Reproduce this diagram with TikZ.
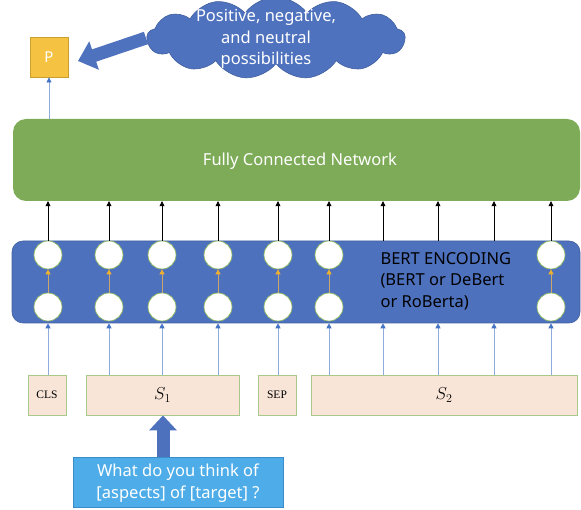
\documentclass[tikz,border=0pt]{standalone}
\usepackage{fontspec}
\setmainfont{Noto Sans}
\newfontfamily\serifsmall{Liberation Serif}
\usetikzlibrary{arrows.meta,shapes.symbols,calc}
\definecolor{fcgreen}{HTML}{7DAB57}
\definecolor{encblue}{HTML}{4E71BE}
\definecolor{encedge}{HTML}{41609F}
\definecolor{cloudblue}{HTML}{4F72BE}
\definecolor{qblue}{HTML}{4EADE8}
\definecolor{qedge}{HTML}{3A8CC8}
\definecolor{peach}{HTML}{F8E5D8}
\definecolor{boxedge}{HTML}{A9C98B}
\definecolor{pfill}{HTML}{F5C242}
\definecolor{pedge}{HTML}{C9A030}
\definecolor{thinblue}{HTML}{8FAADC}
\definecolor{tipblue}{HTML}{4472C4}
\definecolor{tan}{HTML}{C9A66B}
\definecolor{orangetip}{HTML}{F0B030}
\definecolor{circedge}{HTML}{8DB860}
\begin{document}
\begin{tikzpicture}[x=1pt,y=-1pt,
  txt/.style={font=\fontsize{16.5}{21.5}\selectfont},
  inbox/.style={draw=boxedge,line width=0.9pt,fill=peach,inner sep=0},
  neuron/.style={circle,draw=circedge,line width=0.7pt,fill=white,minimum size=28pt,inner sep=0},
  upblack/.style={draw=black,line width=0.7pt,-{Triangle[width=5pt,length=5pt]}},
  upthin/.style={draw=thinblue,line width=0.7pt,-{Triangle[width=5pt,length=5pt,fill=tipblue,color=tipblue]}},
  uporange/.style={draw=tan,line width=0.7pt,-{Triangle[width=5pt,length=5pt,fill=orangetip,color=orangetip]}},
  blockarrow/.style={line width=13pt}
]
\useasboundingbox (0,0) rectangle (581,510);

% cloud
\node[cloud,cloud puffs=13,cloud puff arc=110,aspect=3.3,fill=cloudblue,draw=encedge,line width=0.6pt,
  minimum width=258pt,minimum height=82pt,inner sep=0] (cloud) at (276,38) {};
\node[txt,text=white,align=center] (cloudtxt) at (266,39) {Positive, negative,\\and neutral\\possibilities};

% P box
\node[draw=pedge,fill=pfill,line width=0.8pt,minimum width=38pt,minimum height=40pt,inner sep=0,
  font=\fontsize{15}{17}\selectfont,text=white] (P) at (49,57) {P};

% block arrow from cloud to P
\coordinate (ctail) at (146,38);
\coordinate (chead) at (78,61);
\draw[blockarrow,draw=cloudblue,-{Triangle[width=29pt,length=17pt,fill=cloudblue]}] (ctail) -- (chead);

% fully connected network
\node[fill=fcgreen,rounded corners=13pt,minimum width=567pt,minimum height=82pt,inner sep=0] (fcn) at (296.5,160) {};
\node[txt,text=white] (fcntxt) at (300,161) {Fully Connected Network};

% BERT encoding block
\node[fill=encblue,draw=encedge,line width=0.6pt,rounded corners=11pt,minimum width=568pt,minimum height=82pt,inner sep=0] (enc) at (296,282) {};
\node[txt,text=black,align=left,anchor=west] (enctxt) at (377,281) {BERT ENCODING\\(BERT or DeBert\\or RoBerta)};

% column positions
\foreach \n/\x in {1/48,2/109,3/162,4/218,5/278,6/329,7/383,8/438,9/494,10/551}
  \coordinate (k\n) at (\x,0);

% neurons
\foreach \n/\x in {1/48,2/109,3/162,4/218,5/278,6/329,7/551}{
  \node[neuron] (t\n) at (\x,255) {};
  \node[neuron] (b\n) at (\x,307) {};
}
\foreach \n in {1,...,7}{
  \draw[uporange] (b\n.north) -- (t\n.south);
  \draw[upblack] (t\n.north) -- (t\n.north |- fcn.south);
}
\foreach \n in {7,8,9}{
  \draw[upblack] (k\n |- enc.north) -- (k\n |- fcn.south);
}

% P arrow
\draw[upthin] (P.south |- fcn.north) -- (P.south);

% input boxes
\node[inbox,minimum width=38pt,minimum height=40pt,font=\serifsmall\fontsize{11.5}{13}\selectfont] (cls) at (47,395) {CLS};
\node[inbox,minimum width=153pt,minimum height=40pt,font=\fontsize{18}{20}\selectfont] (s1) at (162.5,395) {$S_1$};
\node[inbox,minimum width=38pt,minimum height=40pt,font=\serifsmall\fontsize{11.5}{13}\selectfont] (sep) at (277,395) {SEP};
\node[inbox,minimum width=266pt,minimum height=40pt,font=\fontsize{18}{20}\selectfont] (s2) at (444,395) {$S_2$};

% input arrows
\foreach \n in {1}{\draw[upthin] (k\n |- cls.north) -- (k\n |- enc.south);}
\foreach \n in {2,3,4}{\draw[upthin] (k\n |- s1.north) -- (k\n |- enc.south);}
\foreach \n in {5}{\draw[upthin] (k\n |- sep.north) -- (k\n |- enc.south);}
\foreach \n in {6,7,8,9,10}{\draw[upthin] (k\n |- s2.north) -- (k\n |- enc.south);}

% question box
\node[fill=qblue,draw=qedge,line width=0.8pt,minimum width=210pt,minimum height=50pt,inner sep=0] (q) at (178,482) {};
\node[txt,text=white,align=center] (qtxt) at (178,483) {What do you think of\\{[aspects]} of [target] ?};

% block arrow up
\coordinate (qa) at (163,0);
\draw[blockarrow,draw=encblue,-{Triangle[width=27pt,length=15pt,fill=encblue]}] (qa |- q.north) -- (qa |- s1.south);
\end{tikzpicture}
\end{document}
